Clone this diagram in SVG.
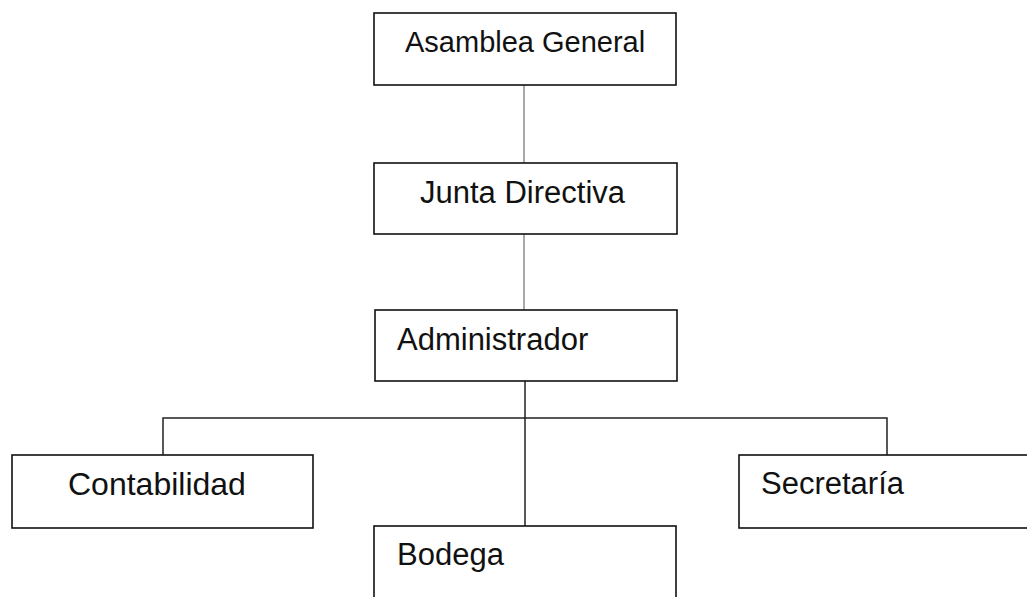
<svg xmlns="http://www.w3.org/2000/svg" width="1027" height="597" viewBox="0 0 1027 597">
<style>
.box{fill:#fff;stroke:#111;stroke-width:1.6}
.lbl{font-family:"Liberation Sans",Arial,sans-serif;fill:#111;font-size:31px}
.c1{stroke:#555;stroke-width:1;fill:none}
.c2{stroke:#222;stroke-width:1.5;fill:none}
</style>
<rect width="1027" height="597" fill="#fff"/>
<g id="connectors">
<line class="c1" x1="524" y1="85" x2="524" y2="163"/>
<line class="c1" x1="524" y1="234" x2="524" y2="310"/>
<line class="c2" x1="525" y1="381" x2="525" y2="526"/>
<polyline class="c2" points="163,455 163,418 887,418 887,455"/>
</g>
<g id="asamblea">
<rect class="box" x="374" y="13" width="302" height="72"/>
<text class="lbl" x="405" y="52" style="font-size:29px">Asamblea General</text>
</g>
<g id="junta">
<rect class="box" x="374" y="163" width="303" height="71"/>
<text class="lbl" x="420" y="203">Junta Directiva</text>
</g>
<g id="administrador">
<rect class="box" x="375" y="310" width="302" height="71"/>
<text class="lbl" x="397" y="350">Administrador</text>
</g>
<g id="contabilidad">
<rect class="box" x="12" y="455" width="301" height="73"/>
<text class="lbl" x="68" y="495" style="font-size:32px">Contabilidad</text>
</g>
<g id="secretaria">
<rect class="box" x="739" y="455" width="300" height="73"/>
<text class="lbl" x="761" y="494">Secretaría</text>
</g>
<g id="bodega">
<rect class="box" x="374" y="526" width="302" height="90"/>
<text class="lbl" x="397" y="565">Bodega</text>
</g>
</svg>
